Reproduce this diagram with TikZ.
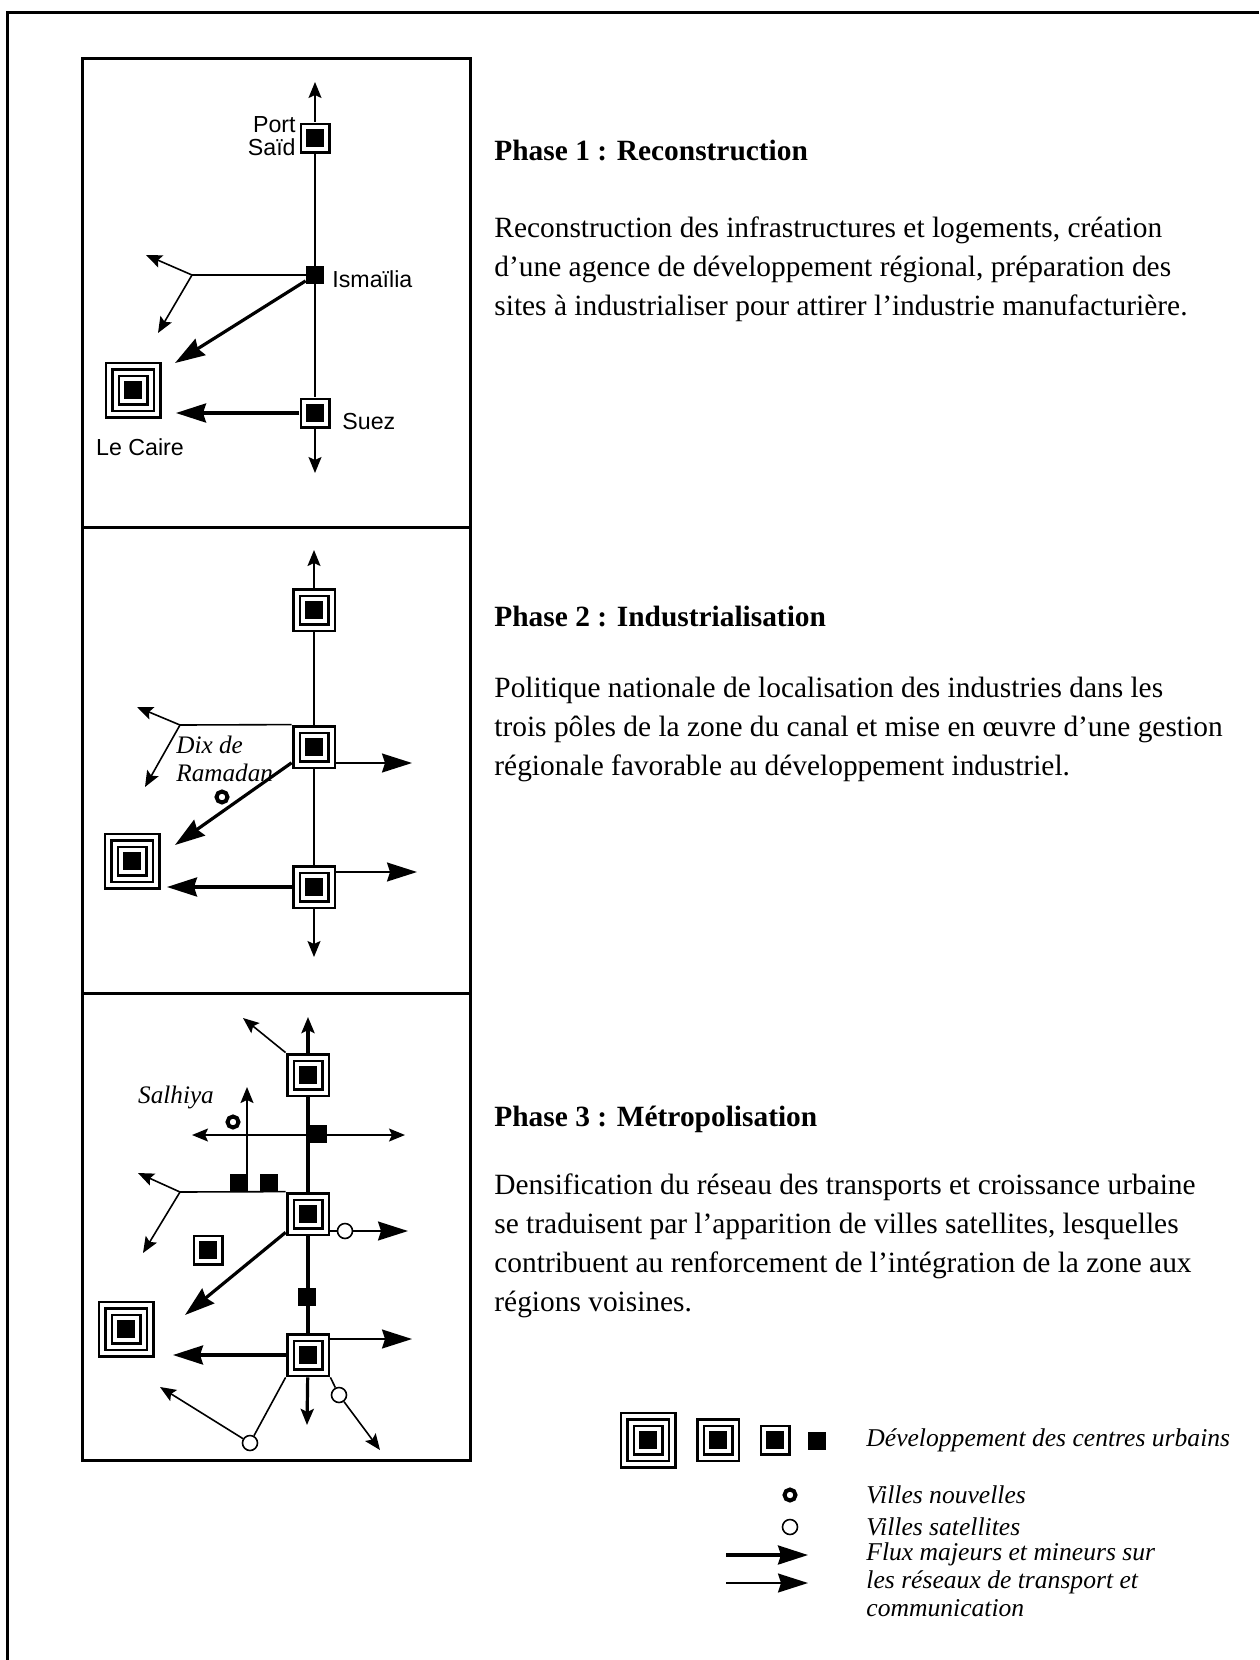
\documentclass[tikz,border=0pt]{standalone}
\usepackage{fontspec}
\setmainfont{Liberation Serif}
\newfontfamily\mapfont{Liberation Sans}
\usetikzlibrary{arrows.meta}

\tikzset{
  pole/.style={rectangle, fill=black, inner sep=0pt, minimum size={2*#1pt},
    path picture={
      \foreach \hs/\col in {13/white,11/black,9.75/white,7.75/black,6.5/white,4.5/black}{
        \ifdim\hs pt<#1pt
          \fill[\col] ([shift={(-\hs pt,-\hs pt)}]path picture bounding box.center)
            rectangle ([shift={(\hs pt,\hs pt)}]path picture bounding box.center);
        \fi}}},
  pole4/.style={pole=14.25},
  pole3/.style={pole=11},
  pole2/.style={pole=7.75},
  pole1/.style={pole=4.5},
  newtown/.style={circle, draw, line width=2pt, inner sep=0pt, minimum size=5.5pt},
  satellite/.style={circle, draw, fill=white, line width=0.8pt, inner sep=0pt, minimum size=7.5pt},
  road/.style={line width=0.8pt},
  canal/.style={line width=1.6pt},
  bighead/.style={-{Stealth[length=15pt,width=9.5pt,inset=1.5pt]}},
  flow/.style={line width=1.6pt, bighead},
  panel/.style={line width=1.5pt},
  townlabel/.style={font=\mapfont\fontsize{11.6}{11.8}\selectfont, inner sep=0pt},
  site/.style={font=\itshape\fontsize{12.6}{14}\selectfont, inner sep=0pt},
  phase/.style={font=\bfseries\fontsize{14.7}{19.4}\selectfont, anchor=base west, inner sep=0pt},
  body/.style={font=\fontsize{14.7}{19.4}\selectfont, anchor=base west, align=left, inner sep=0pt},
  legendtext/.style={font=\itshape\fontsize{12.8}{13.8}\selectfont, anchor=base west, align=left, inner sep=0pt},
}

\begin{document}
\begin{tikzpicture}[x=0.5pt, y=-0.5pt, >={Stealth[length=8pt,width=6.5pt,inset=1.5pt]}]
  \useasboundingbox (0,0) rectangle (1259,1660);
  % frame
  \draw[panel] (7,1660) -- (7,12) -- (1259,12);
  \draw[panel] (82,58) rectangle (470,527);
  \draw[panel] (82,527) rectangle (470,993);
  \draw[panel] (82,993) rectangle (470,1460);

  % Phase 1
  \node[pole2] (P1) at (315,138) {};
  \node[pole1] (I1) at (315,275) {};
  \node[pole2] (S1) at (315,413) {};
  \node[pole4] (C1) at (133,390) {};
  \coordinate (N1) at (315,82);
  \coordinate (D1) at (315,473);
  \coordinate (B1) at (192,275);
  \coordinate (W1) at (146,255);
  \coordinate (V1) at (158,333);
  \coordinate (T1) at (175,363);
  \coordinate (U1) at (176,413);
  \draw[road,->] (P1) -- (N1);
  \draw[road] (P1) -- (I1) -- (S1);
  \draw[road,->] (S1) -- (D1);
  \draw[road] (I1) -- (B1);
  \draw[road,->] (B1) -- (W1);
  \draw[road,->] (B1) -- (V1);
  \draw[flow] (I1) -- (T1);
  \draw[flow] (S1) -- (U1);
  \node[townlabel, anchor=east, align=right] (lP1) at (296,136) {Port\\Saïd};
  \node[townlabel, anchor=west] (lI1) at (332,279) {Ismaïlia};
  \node[townlabel, anchor=west] (lS1) at (342,422) {Suez};
  \node[townlabel] (lC1) at (140,447) {Le Caire};

  % Phase 2
  \node[pole3] (P2) at (314,610) {};
  \node[pole3] (I2) at (314,747) {};
  \node[pole3] (S2) at (314,887) {};
  \node[pole4] (C2) at (132,861) {};
  \node[newtown] (R2) at (222,797) {};
  \coordinate (N2) at (314,550);
  \coordinate (D2) at (314,957);
  \coordinate (B2) at (180,725);
  \coordinate (W2) at (137,707);
  \coordinate (V2) at (145,787);
  \coordinate (T2) at (175,845);
  \coordinate (U2) at (167,887);
  \coordinate (E2) at (412,763);
  \coordinate (F2) at (417,872);
  \draw[road,->] (P2) -- (N2);
  \draw[road] (P2) -- (I2);
  \draw[line width=1.2pt] (I2) -- (S2);
  \draw[road,->] (S2) -- (D2);
  \draw[road] (I2.north west) -- (B2);
  \draw[road,->] (B2) -- (W2);
  \draw[road,->] (B2) -- (V2);
  \draw[flow] (I2) -- (T2);
  \draw[flow] (S2) -- (U2);
  \draw[road,bighead] (I2.east |- E2) -- (E2);
  \draw[road,bighead] (S2.east |- F2) -- (F2);
  \node[site, anchor=west, align=left] (lR2) at (176,759) {Dix de\\Ramadan};

  % Phase 3
  \node[pole3] (P3) at (308,1075) {};
  \node[pole1] (M3) at (318,1134) {};
  \node[pole3] (I3) at (308,1214) {};
  \node[pole1] (A3) at (239,1183) {};
  \node[pole1] (K3) at (269,1183) {};
  \node[pole2] (Q3) at (208,1250) {};
  \node[pole1] (L3) at (307,1297) {};
  \node[pole3] (S3) at (308,1355) {};
  \node[pole4] (C3) at (126,1329) {};
  \node[newtown] (H3) at (233,1122) {};
  \node[satellite] (E3) at (345,1231) {};
  \node[satellite] (G3) at (250,1443) {};
  \node[satellite] (J3) at (339,1395) {};
  \coordinate (N3) at (308,1017);
  \coordinate (D3) at (307,1425);
  \coordinate (X3) at (243,1018);
  \coordinate (WL3) at (192,1135);
  \coordinate (ER3) at (405,1135);
  \coordinate (B3) at (180,1192);
  \coordinate (W3) at (138,1173);
  \coordinate (V3) at (143,1253);
  \coordinate (Y0) at (247,1192);
  \coordinate (Y3) at (247,1087);
  \coordinate (T3) at (185,1315);
  \coordinate (U3) at (173,1355);
  \coordinate (Et3) at (408,1231);
  \coordinate (F3) at (412,1339);
  \coordinate (Gt3) at (160,1387);
  \coordinate (Jt3) at (380,1450);
  \draw[canal,->] (P3) -- (N3);
  \draw[canal] (P3) -- (I3) -- (S3);
  \draw[canal,->] (S3) -- (D3);
  \draw[road,->] (P3.north west) -- (X3);
  \draw[road,<->] (WL3) -- (ER3);
  \draw[road] (I3.north west) -- (B3);
  \draw[road,->] (B3) -- (W3);
  \draw[road,->] (B3) -- (V3);
  \draw[road,->] (Y0) -- (Y3);
  \draw[flow] (I3) -- (T3);
  \draw[flow] (S3) -- (U3);
  \draw[road] (I3.east |- E3) -- (E3);
  \draw[road,bighead] (E3) -- (Et3);
  \draw[road,bighead] (S3.east |- F3) -- (F3);
  \draw[road] (S3.south west) -- (G3);
  \draw[road,->] (G3) -- (Gt3);
  \draw[road] (S3.south east) -- (J3);
  \draw[road,->] (J3) -- (Jt3);
  \node[site] (lH3) at (176,1097) {Salhiya};

  % texts (multi-line nodes sit on their last baseline)
  \node[phase] (h1) at (494,160) {Phase 1 : Reconstruction};
  \node[body] (t1) at (494,315) {Reconstruction des infrastructures et logements, création\\d’une agence de développement régional, préparation des\\sites à industrialiser pour attirer l’industrie manufacturière.};
  \node[phase] (h2) at (494,626) {Phase 2 : Industrialisation};
  \node[body] (t2) at (494,775) {Politique nationale de localisation des industries dans les\\trois pôles de la zone du canal et mise en œuvre d’une gestion\\régionale favorable au développement industriel.};
  \node[phase] (h3) at (494,1126) {Phase 3 : Métropolisation};
  \node[body] (t3) at (494,1311) {Densification du réseau des transports et croissance urbaine\\se traduisent par l’apparition de villes satellites, lesquelles\\contribuent au renforcement de l’intégration de la zone aux\\régions voisines.};

  % legend
  \node[pole4] (k4) at (648,1440) {};
  \node[pole3] (k3) at (718,1440) {};
  \node[pole2] (k2) at (775,1440) {};
  \node[pole1] (k1) at (817,1441) {};
  \node[newtown] (kn) at (790,1495) {};
  \node[satellite] (ks) at (790,1527) {};
  \coordinate (ka) at (726,1555);
  \coordinate (kb) at (808,1555);
  \coordinate (kc) at (726,1583);
  \coordinate (kd) at (808,1583);
  \draw[flow] (ka) -- (kb);
  \draw[road,bighead] (kc) -- (kd);
  \node[legendtext] (lk1) at (866,1446) {Développement des centres urbains};
  \node[legendtext] (lk2) at (866,1503) {Villes nouvelles};
  \node[legendtext] (lk3) at (866,1535) {Villes satellites};
  \node[legendtext] (lk4) at (866,1616) {Flux majeurs et mineurs sur\\les réseaux de transport et\\communication};
\end{tikzpicture}
\end{document}
